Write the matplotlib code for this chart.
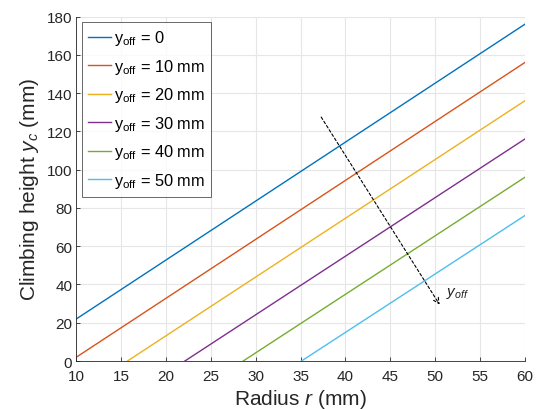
import matplotlib
matplotlib.use("Agg")

import matplotlib.pyplot as plt

# Climbing height vs radius for several vertical offsets
offsets = ["0", "10 mm", "20 mm", "30 mm", "40 mm", "50 mm"]
r_start = [10, 10, 15.7, 22.1, 28.6, 35.1]
r_end = [60, 60, 60, 60, 60, 60]
yc_start = [22, 2, 0, 0, 0, 0]
yc_end = [176, 156, 136, 116, 96, 76]

colors = ["#0072BD", "#D95319", "#EDB120", "#7E2F8E", "#77AC30", "#4DBEEE"]

# trend arrow (increasing offset)
arrow_from = (37.3, 127.5)
arrow_to = (50.5, 29.5)

plt.rcParams["font.family"] = ["Liberation Sans", "DejaVu Sans"]
plt.rcParams["mathtext.fontset"] = "custom"
plt.rcParams["mathtext.rm"] = "Liberation Sans"
plt.rcParams["mathtext.it"] = "Liberation Sans:italic"

fig = plt.figure(figsize=(5.53, 4.10), dpi=100)
ax = fig.add_axes([0.138, 0.117, 0.811, 0.84])

for i in range(len(offsets)):
    ax.plot([r_start[i], r_end[i]], [yc_start[i], yc_end[i]],
            color=colors[i], linewidth=1.0,
            label=r"$\mathrm{y}_{\mathrm{off}}$ = " + offsets[i])

ax.annotate("", xy=arrow_to, xytext=arrow_from,
            arrowprops=dict(arrowstyle="->", linestyle=(0, (2.5, 2)),
                            color="black", lw=0.8, shrinkA=0, shrinkB=0))
ax.text(51.2, 34.5, r"$y_{off}$", fontsize=11, color="#222222")

ax.set_xlim(10, 60)
ax.set_ylim(0, 180)
ax.set_xticks(range(10, 61, 5))
ax.set_yticks(range(0, 181, 20))
ax.tick_params(direction="in", length=3, labelsize=11, colors="#262626",
               labelcolor="#262626", width=0.6)
ax.tick_params(axis="x", pad=5.5)
ax.tick_params(axis="y", pad=3)
ax.grid(color="#e6e6e6", linewidth=0.8)
ax.set_axisbelow(True)
for side in ["top", "right"]:
    ax.spines[side].set_visible(False)
for side in ["left", "bottom"]:
    ax.spines[side].set_color("#262626")
    ax.spines[side].set_linewidth(0.6)

ax.set_xlabel(r"Radius $r$ (mm)", fontsize=15, color="#262626", labelpad=3)
ax.set_ylabel(r"Climbing height $y_c$ (mm)", fontsize=15, color="#262626", labelpad=4)

leg = ax.legend(loc="upper left", fontsize=11.8, frameon=True, fancybox=False,
                edgecolor="#262626", handlelength=1.4, handletextpad=0.15,
                borderpad=0.4, labelspacing=0.58, borderaxespad=0.32)
leg.get_frame().set_linewidth(0.6)

fig.savefig("out.png", dpi=100)
